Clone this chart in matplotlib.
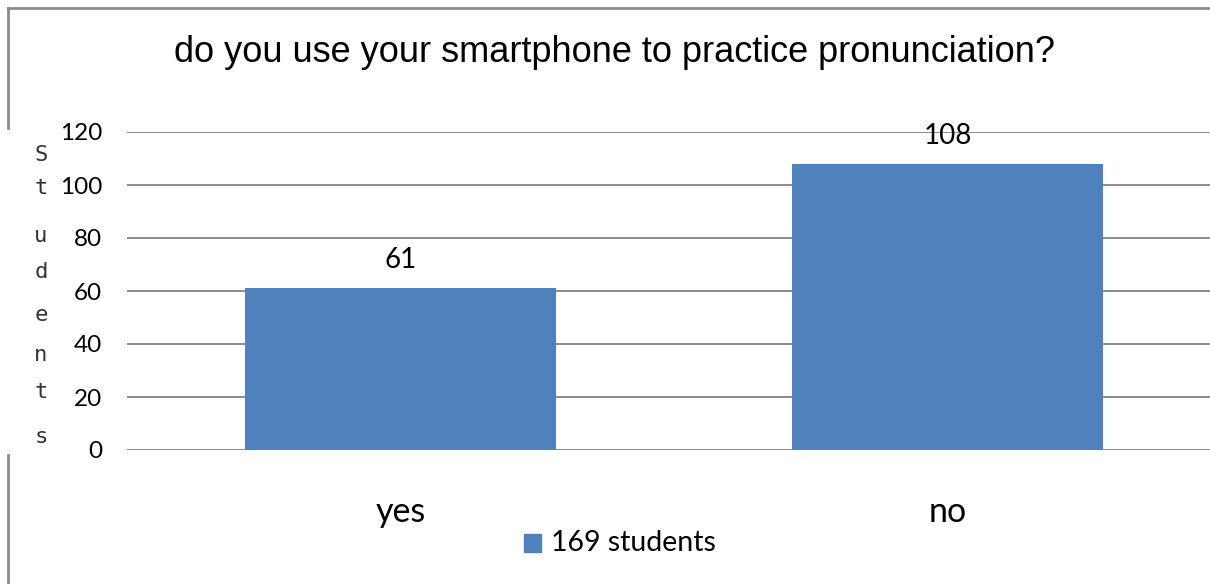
import matplotlib
matplotlib.use("Agg")
import matplotlib.pyplot as plt
from matplotlib.lines import Line2D
from matplotlib.patches import Rectangle

categories = ["yes", "no"]
counts = [61, 108]
series_name = "169 students"
title = "do you use your smartphone to practice pronunciation?"
y_ticks = [0, 20, 40, 60, 80, 100, 120]
y_label = "Students"

W, H = 1210, 584
fig = plt.figure(figsize=(W / 100, H / 100), dpi=100)
fig.patch.set_facecolor("white")

def fx(px):
    return px / W

def fy(py):
    return 1 - py / H

# plot area: left edge at x=127, zero line at y=450, top gridline at y=132
ax = fig.add_axes([fx(127), fy(450), 1094 / W, 318 / H])
ax.set_xlim(-0.5, 1.5)
ax.set_ylim(0, 120)
bar_color = "#4F81BD"
bars = ax.bar(range(len(categories)), counts, width=0.57, color=bar_color, zorder=3)

ax.set_yticks(y_ticks)
ax.set_yticklabels([str(t) for t in y_ticks], fontfamily="Lato", fontsize=17.5)
ax.tick_params(axis="y", length=0, pad=18)
ax.set_xticks([])
ax.grid(axis="y", color="#8c8c8c", linewidth=1.4, zorder=0)
for s in ax.spines.values():
    s.set_visible(False)
ax.set_facecolor("none")

for i, v in enumerate(counts):
    ax.annotate(str(v), (i, v), xytext=(0, 11), textcoords="offset points",
                ha="center", va="bottom", fontfamily="Lato", fontsize=20)

for i, c in enumerate(categories):
    ax.annotate(c, (i, 0), xytext=(0, -62), textcoords="offset pixels",
                ha="center", va="center", fontfamily="Lato", fontsize=24.5,
                annotation_clip=False)

# title
fig.text(fx(614), fy(52), title, ha="center", va="center",
         fontfamily="Liberation Sans", fontsize=26)

# vertical stacked axis title
letter_y = [155, 188, 236, 272, 315, 355, 392, 437]
for ch, py in zip(y_label, letter_y):
    fig.text(fx(41), fy(py), ch, ha="center", va="center",
             fontfamily="DejaVu Sans Mono", fontsize=16, color="#333333",
             fontweight="medium")

# legend
fig.patches.append(Rectangle((fx(524), fy(552)), 17 / W, 18 / H,
                             transform=fig.transFigure, color=bar_color))
fig.text(fx(551), fy(543), series_name, ha="left", va="center",
         fontfamily="Lato", fontsize=20.5)

# chart frame
frame_kw = dict(transform=fig.transFigure, color="#8c8c8c", linewidth=2)
fig.lines.append(Line2D([fx(8), 1], [fy(8), fy(8)], **frame_kw))
fig.lines.append(Line2D([fx(8), fx(8)], [fy(8), fy(128)], **frame_kw))
fig.lines.append(Line2D([fx(8), fx(8)], [fy(455), 0], **frame_kw))

fig.savefig("out.png", dpi=100)
